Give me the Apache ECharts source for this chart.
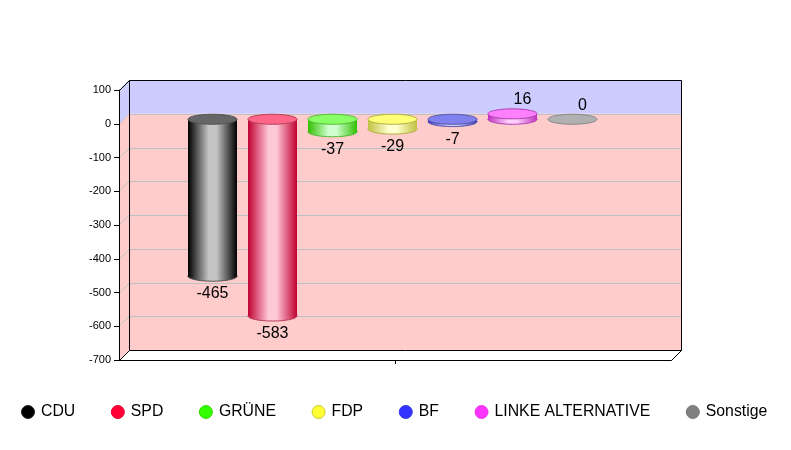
<!DOCTYPE html>
<html>
<head>
<meta charset="utf-8">
<style>html,body{margin:0;padding:0;background:#fff}#c{width:791px;height:450px}</style>
<script src="https://cdn.jsdelivr.net/npm/echarts@6/dist/echarts.min.js"></script>
</head>
<body>
<div id="c"></div>
<script>
var parties = ['CDU', 'SPD', 'GRÜNE', 'FDP', 'BF', 'LINKE ALTERNATIVE', 'Sonstige'];
var values = [-465, -583, -37, -29, -7, 16, 0];
var gridValues = [0, -100, -200, -300, -400, -500, -600];
var legendColors = ['#000000', '#ff0033', '#33ff00', '#ffff33', '#3333ff', '#ff33ff', '#808080'];
var legendEdges = ['#222222', '#ee0033', '#33dd00', '#cccc33', '#3333ee', '#ee33ee', '#777777'];
var edgeColors = ['#000000', '#c00030', '#30c000', '#c0c040', '#3030c0', '#c030c0', '#808080'];
var midColors = ['#c4c4c4', '#ffc8d8', '#d0ffd0', '#ffffd0', '#ccccff', '#ffd0ff', '#c0c0c0'];
var capColors = ['#666666', '#ff6688', '#88ff66', '#ffff77', '#8080ee', '#ff80ff', '#b0b0b0'];
var lineColors = ['#555555', '#b8405a', '#55bb33', '#b0b040', '#5858a8', '#b040b0', '#888888'];

var DEPTH = 10, RX = 24.5, RY = 5, STEP = 60;

function bandItem(params, api) {
  var cs = params.coordSys;
  var yT = api.coord([0, api.value(0)])[1];
  var yB = api.coord([0, api.value(1)])[1];
  var L = cs.x, R = cs.x + cs.width;
  var fill = params.dataIndex === 0 ? '#ccccff' : '#ffcccc';
  return {type: 'group', silent: true, children: [
    {type: 'polygon', shape: {points: [[L + DEPTH, yT - DEPTH], [R + DEPTH, yT - DEPTH], [R + DEPTH, yB - DEPTH], [L + DEPTH, yB - DEPTH]]}, style: {fill: fill}},
    {type: 'polygon', shape: {points: [[L, yT], [L + DEPTH, yT - DEPTH], [L + DEPTH, yB - DEPTH], [L, yB]]}, style: {fill: fill}}
  ]};
}

function gridItem(params, api) {
  var cs = params.coordSys;
  var y = Math.round(api.coord([0, api.value(0)])[1]);
  var L = cs.x, R = cs.x + cs.width;
  var st = {stroke: '#bcc2c2', lineWidth: 1, fill: 'none'};
  return {type: 'group', silent: true, children: [
    {type: 'line', shape: {x1: L + DEPTH, y1: y - DEPTH + 0.5, x2: R + DEPTH, y2: y - DEPTH + 0.5}, style: st},
    {type: 'line', shape: {x1: L, y1: y + 0.5, x2: L + DEPTH, y2: y - DEPTH + 0.5}, style: st}
  ]};
}

function frameItem(params, api) {
  var cs = params.coordSys;
  var L = cs.x + 0.5, R = cs.x + cs.width + 0.5, T = cs.y + 0.5, B = cs.y + cs.height + 0.5;
  var st = {stroke: '#000', lineWidth: 1, fill: 'none'};
  return {type: 'group', silent: true, children: [
    {type: 'polygon', shape: {points: [[L, B], [L + DEPTH, B - DEPTH], [R + DEPTH, B - DEPTH], [R, B]]}, style: {fill: '#fff', stroke: '#000', lineWidth: 1}},
    {type: 'polyline', shape: {points: [[L, T], [L + DEPTH, T - DEPTH], [R + DEPTH, T - DEPTH], [R + DEPTH, B - DEPTH]]}, style: st},
    {type: 'line', shape: {x1: L + DEPTH, y1: T - DEPTH, x2: L + DEPTH, y2: B - DEPTH}, style: st}
  ]};
}

function cylinderItem(i) {
  return function (params, api) {
    var v = api.value(1);
    var pt = api.coord([0, v]);
    var zero = api.coord([0, 0]);
    var cx = pt[0] + (i - 3) * STEP - 2.5;
    var yv = pt[1] - 4.5, y0 = zero[1] - 4.5;
    var top = Math.min(yv, y0), bot = Math.max(yv, y0);
    var grad = {type: 'linear', x: 0, y: 0, x2: 1, y2: 0, colorStops: [
      {offset: 0, color: edgeColors[i]}, {offset: 0.42, color: midColors[i]},
      {offset: 0.58, color: midColors[i]}, {offset: 1, color: edgeColors[i]}
    ]};
    var kids = [];
    if (bot > top) {
      kids.push({type: 'ellipse', shape: {cx: cx, cy: bot, rx: RX, ry: RY}, style: {fill: grad, stroke: lineColors[i], lineWidth: 1}});
      kids.push({type: 'rect', shape: {x: cx - RX, y: top, width: 2 * RX, height: bot - top}, style: {fill: grad}});
    }
    kids.push({type: 'ellipse', shape: {cx: cx, cy: top, rx: RX, ry: RY}, style: {fill: capColors[i], stroke: lineColors[i], lineWidth: 1}});
    kids.push({type: 'text', style: {
      text: String(v), x: v < 0 ? cx : cx + 10, y: v < 0 ? bot + RY + 12.5 : top - RY - 9,
      fill: '#000', font: '16px "Liberation Sans"', align: 'center', verticalAlign: 'middle'
    }});
    return {type: 'group', silent: true, children: kids};
  };
}

var series = [
  {type: 'custom', name: 'bands', z: 1, silent: true, clip: false, renderItem: bandItem, data: [[100, 0], [0, -700]], encode: {y: [0, 1]}},
  {type: 'custom', name: 'gridlines', z: 1, silent: true, clip: false, renderItem: gridItem, data: gridValues.map(function (g) { return [g]; }), encode: {y: 0}},
  {type: 'custom', name: 'frame', z: 1, silent: true, clip: false, renderItem: frameItem, data: [[0]], encode: {y: 0}}
];
parties.forEach(function (p, i) {
  series.push({
    type: 'custom', name: p, z: 2, clip: false, silent: true,
    itemStyle: {color: legendColors[i]},
    renderItem: cylinderItem(i),
    data: [[0, values[i]]], encode: {x: 0, y: 1}
  });
});

var chart = echarts.init(document.getElementById('c'), null, {renderer: 'canvas'});
chart.setOption({
  animation: false,
  backgroundColor: '#fff',
  grid: {left: 119, top: 90, width: 552, height: 270, containLabel: false},
  legend: {
    left: 21, top: 404, padding: 0, itemGap: 35.6, itemWidth: 13, itemHeight: 13, icon: 'circle', selectedMode: false,
    textStyle: {fontFamily: 'Liberation Sans', fontSize: 15.8, color: '#000', padding: [0, 0, 0, 1.5]},
    data: parties.map(function (p, i) {
      return {name: p, itemStyle: {color: legendColors[i], borderColor: legendEdges[i], borderWidth: 1}};
    })
  },
  xAxis: {
    type: 'category', data: [''], z: 3,
    axisLine: {onZero: false, lineStyle: {color: '#000', width: 1}},
    axisTick: {show: true, alignWithLabel: true, length: 4, lineStyle: {color: '#000'}},
    axisLabel: {show: false}, splitLine: {show: false}
  },
  yAxis: {
    type: 'value', min: -700, max: 100, interval: 100, z: 3,
    axisLine: {show: true, onZero: false, lineStyle: {color: '#000', width: 1}},
    axisTick: {show: true, length: 5, lineStyle: {color: '#000'}},
    axisLabel: {margin: 8, fontFamily: 'Liberation Sans', fontSize: 11, color: '#000'},
    splitLine: {show: false}
  },
  series: series
});
</script>
</body>
</html>
